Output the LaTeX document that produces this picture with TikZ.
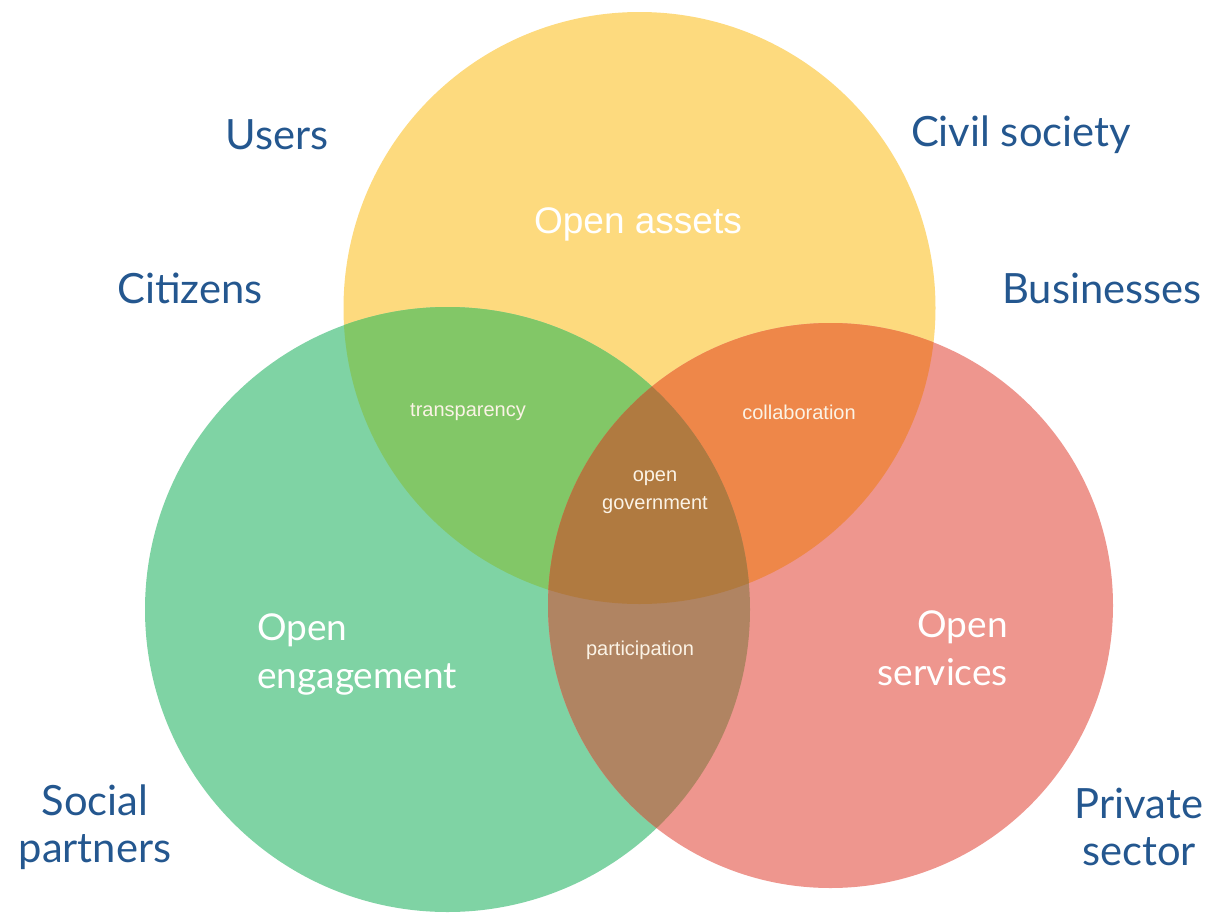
\documentclass[tikz,border=0pt]{standalone}
\usepackage{fontspec}
\setmainfont{Lato}
\newfontfamily\arialf{Liberation Sans}
\definecolor{cyel}{HTML}{FDDA7E}
\definecolor{cgrn}{HTML}{7FD3A4}
\definecolor{cred}{HTML}{EE968E}
\definecolor{ctra}{HTML}{82C767}
\definecolor{ccol}{HTML}{EE8749}
\definecolor{cpar}{HTML}{B08462}
\definecolor{ccen}{HTML}{B07A40}
\definecolor{cblue}{HTML}{24578F}
\definecolor{ctxt}{HTML}{FBF3E6}
\begin{document}
\begin{tikzpicture}[x=1pt,y=-1pt,
  outer/.style={text=cblue,font=\fontsize{41.7}{47}\selectfont,inner sep=0pt,align=center},
  bigw/.style={text=white,font=\fontsize{37}{48}\selectfont,inner sep=0pt},
  smallw/.style={text=ctxt,font=\arialf\fontsize{20}{28}\selectfont,inner sep=0pt,align=center}]
\useasboundingbox (0,0) rectangle (1211,916);
\coordinate (Y) at (639.5,308);
\coordinate (G) at (447.5,609.5);
\coordinate (R) at (830.5,605.5);
\def\ycirc{(Y) circle[radius=296pt]}
\def\gcirc{(G) circle[radius=302.5pt]}
\def\rcirc{(R) circle[radius=282.5pt]}
\fill[cyel] \ycirc;
\fill[cgrn] \gcirc;
\fill[cred] \rcirc;
\begin{scope}
  \clip \ycirc;
  \fill[ctra] \gcirc;
  \fill[ccol] \rcirc;
\end{scope}
\begin{scope}
  \clip \gcirc;
  \fill[cpar] \rcirc;
\end{scope}
\begin{scope}
  \clip \ycirc;
  \clip \gcirc;
  \fill[ccen] \rcirc;
\end{scope}
% outer labels
\node[outer] (users) at (277,135) {Users};
\node[outer] (citizens) at (190,288) {Citizens};
\node[outer] (civil) at (1021,135) {Civil society};
\node[outer] (business) at (1102,288) {Businesses};
\node[outer] (social) at (95,827) {Social\\partners};
\node[outer] (private) at (1139,827) {Private\\sector};
% inner labels
\node[bigw,font=\arialf\fontsize{37}{44}\selectfont] (assets) at (638,224) {Open assets};
\node[bigw,align=left,anchor=west] (engage) at (257,654) {Open\\engagement};
\node[bigw,align=right,anchor=east] (services) at (1008,648) {Open\\services};
\node[smallw] (transp) at (468,412) {transparency};
\node[smallw] (collab) at (799,412) {collaboration};
\node[smallw] (gov) at (655,492) {open\\government};
\node[smallw] (partic) at (640,650) {participation};
\end{tikzpicture}
\end{document}
